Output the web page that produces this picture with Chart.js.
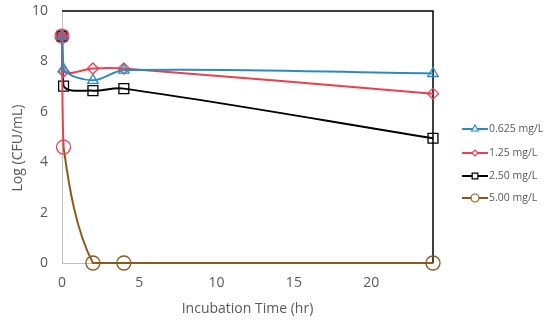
<!DOCTYPE html>
<html>
<head>
<meta charset="utf-8">
<script src="https://cdn.jsdelivr.net/npm/chart.js@4.4.1/dist/chart.umd.min.js"></script>
<style>
  html, body { margin: 0; padding: 0; background: #fff; }
  #wrap { width: 550px; height: 321px; }
</style>
</head>
<body>
<div id="wrap"><canvas id="chart" width="550" height="321"></canvas></div>
<script>
// data (hours, log CFU/mL)
var labels = ['0.625 mg/L', '1.25 mg/L', '2.50 mg/L', '5.00 mg/L'];
var times = [0, 0.1, 2, 4, 24];
var conc0625 = [9.0, 7.7, 7.25, 7.65, 7.52];
var conc125 = [9.0, 7.6, 7.72, 7.72, 6.72];
var conc250 = [9.0, 7.02, 6.84, 6.92, 4.95];
var conc500 = [9.0, 4.6, 0, 0, 0];
var yTicks = [0, 2, 4, 6, 8, 10];
var xTicks = [0, 5, 10, 15, 20];

var colors = ['#2b8bc0', '#ee3d4c', '#000000', '#8a5a1c'];
var styles = ['triangle', 'rectRot', 'rect', 'circle'];
var radii = [6, 5.5, 7, 7];
var series = [conc0625, conc125, conc250, conc500];
var fontFam = '"Open Sans", sans-serif';

function pts(vals) {
    return vals.map(function(v, i) { return { x: times[i], y: v }; });
}

var datasets = series.map(function(vals, i) {
    var ds = {
        label: labels[i],
        data: pts(vals),
        borderColor: colors[i],
        backgroundColor: 'rgba(0,0,0,0)',
        pointBorderColor: colors[i],
        pointBackgroundColor: 'rgba(0,0,0,0)',
        pointStyle: styles[i],
        pointRadius: radii[i],
        pointBorderWidth: 1.3,
        borderWidth: 2,
        tension: 0.35,
        clip: false,
        fill: false
    };
    if (i === 3) {
        ds.pointBorderColor = ['#ee3d4c', '#ee3d4c', colors[3], colors[3], colors[3]];
        ds.segment = {
            borderColor: function(ctx) { return ctx.p0DataIndex === 0 ? '#ee3d4c' : colors[3]; }
        };
    }
    return ds;
});
// the square at t=0 sits under the others, filled red like the original
datasets[2].order = 5;
datasets[2].pointBackgroundColor = ['#ee3d4c', 'rgba(0,0,0,0)', 'rgba(0,0,0,0)', 'rgba(0,0,0,0)', 'rgba(0,0,0,0)'];

var frame = {
    id: 'frame',
    beforeDatasetsDraw: function(chart) {
        var c = chart.ctx, a = chart.chartArea;
        c.save();
        c.strokeStyle = '#000';
        c.lineWidth = 1.5;
        c.beginPath();
        c.moveTo(a.left, a.top);
        c.lineTo(a.right, a.top);
        c.lineTo(a.right, a.bottom);
        c.stroke();
        c.restore();
    },
    afterDraw: function(chart) {
        var c = chart.ctx;
        var ys = [129, 153, 176, 198];
        c.save();
        // y axis title, sits a little below the middle as in the original
        c.translate(18, 148);
        c.rotate(-Math.PI / 2);
        c.font = '14px ' + fontFam;
        c.fillStyle = '#595959';
        c.textAlign = 'center';
        c.textBaseline = 'middle';
        c.fillText('Log (CFU/mL)', 0, 0);
        c.restore();

        c.save();
        c.font = '10.5px ' + fontFam;
        c.textBaseline = 'middle';
        for (var i = 0; i < 4; i++) {
            var y = ys[i];
            c.strokeStyle = colors[i];
            c.lineWidth = 2;
            c.beginPath();
            c.moveTo(462, y);
            c.lineTo(488, y);
            c.stroke();
            c.lineWidth = 1.2;
            c.fillStyle = '#fff';
            Chart.helpers.drawPoint(c, { pointStyle: styles[i], radius: i === 1 ? 3 : 4, borderWidth: 1.2 }, 475, y);
            c.fillStyle = '#595959';
            c.fillText(labels[i], 489, y);
        }
        c.restore();
    }
};

new Chart(document.getElementById('chart'), {
    type: 'line',
    data: { datasets: datasets },
    plugins: [frame],
    options: {
        responsive: false,
        animation: false,
        layout: { padding: { top: 0, right: 117, left: 0, bottom: 0 } },
        plugins: { legend: { display: false }, tooltip: { enabled: false } },
        scales: {
            x: {
                type: 'linear',
                min: 0,
                max: 24,
                grid: { display: false, drawTicks: false },
                border: { color: '#bfbfbf', width: 1 },
                afterBuildTicks: function(s) {
                    s.ticks = xTicks.map(function(v) { return { value: v }; });
                },
                afterFit: function(s) { s.height = 58; },
                ticks: { color: '#595959', font: { family: fontFam, size: 14 }, padding: 12 },
                title: {
                    display: true,
                    text: 'Incubation Time (hr)',
                    color: '#595959',
                    font: { family: fontFam, size: 14 },
                    padding: { top: 2 }
                }
            },
            y: {
                min: 0,
                max: 10,
                grid: { display: false, drawTicks: false },
                border: { color: '#bfbfbf', width: 1 },
                afterBuildTicks: function(s) {
                    s.ticks = yTicks.map(function(v) { return { value: v }; });
                },
                afterFit: function(s) {
                    s.width = 62;
                    s.paddingTop = 11;
                },
                ticks: { color: '#595959', font: { family: fontFam, size: 14 }, padding: 14 }
            }
        }
    }
});
</script>
</body>
</html>
